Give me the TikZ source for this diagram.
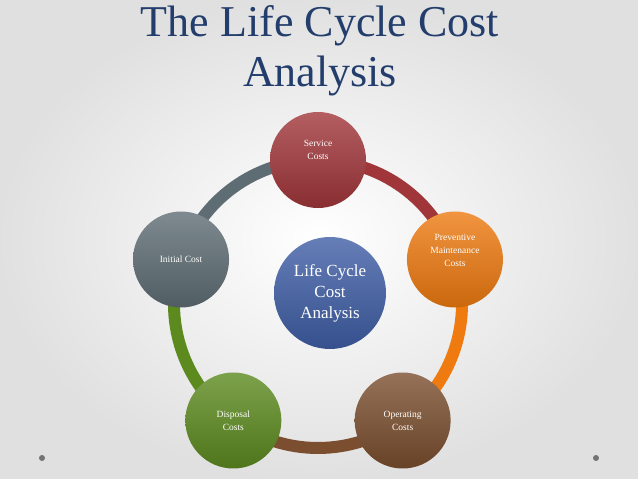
\documentclass[tikz,border=0pt]{standalone}
\usepackage{fontspec}
\setmainfont{Liberation Serif}
\usetikzlibrary{calc}
\definecolor{tcol}{HTML}{233E6C}
\definecolor{csvc}{HTML}{A1363A}
\definecolor{cprev}{HTML}{EE7A10}
\definecolor{cop}{HTML}{7A4E2E}
\definecolor{cdis}{HTML}{5C8A1F}
\definecolor{cini}{HTML}{5E6D74}
\definecolor{ccen}{HTML}{3F5EA6}
\tikzset{
 ball/.style={circle,minimum size=96pt,inner sep=0pt,align=center,text=white,font=\fontsize{9.5}{13}\selectfont,top color=#1!80!white,bottom color=#1!85!black},
 ring/.style={line width=12pt,draw=#1},
}
\begin{document}
\begin{tikzpicture}
\shade[inner color=white,outer color=black!12] (0,0) rectangle (638pt,479pt);
\useasboundingbox (0,0) rectangle (638pt,479pt);
\coordinate (c) at (318pt,175pt);
\node[text=tcol,align=center,font=\fontsize{44}{50}\selectfont] (title) at (320pt,428pt) {The Life Cycle Cost\\Analysis};
\foreach \a/\b/\col in {90/18/csvc,18/-54/cprev,-54/-126/cop,-126/-198/cdis,162/90/cini}
  \draw[ring=\col] ($(c)+(\a:144pt)$) arc[start angle=\a,end angle=\b,radius=144pt];
\node[ball=csvc] (svc) at ($(c)+(90:144pt)$) {Service\\Costs\\[8pt]};
\node[ball=cprev] (prev) at ($(c)+(18:144pt)$) {Preventive\\Maintenance\\Costs\\[6pt]};
\node[ball=cop] (op) at ($(c)+(-54:144pt)$) {Operating\\Costs};
\node[ball=cdis] (dis) at ($(c)+(-126:144pt)$) {Disposal\\Costs};
\node[ball=cini] (ini) at ($(c)+(162:144pt)$) {Initial Cost};
\node[ball=ccen,minimum size=112pt,font=\fontsize{17}{21}\selectfont] (cen) at (330pt,186pt) {Life Cycle\\Cost\\Analysis};
\fill[black!55] (42pt,21pt) circle (3pt);
\fill[black!55] (596pt,21pt) circle (3pt);
\end{tikzpicture}
\end{document}
